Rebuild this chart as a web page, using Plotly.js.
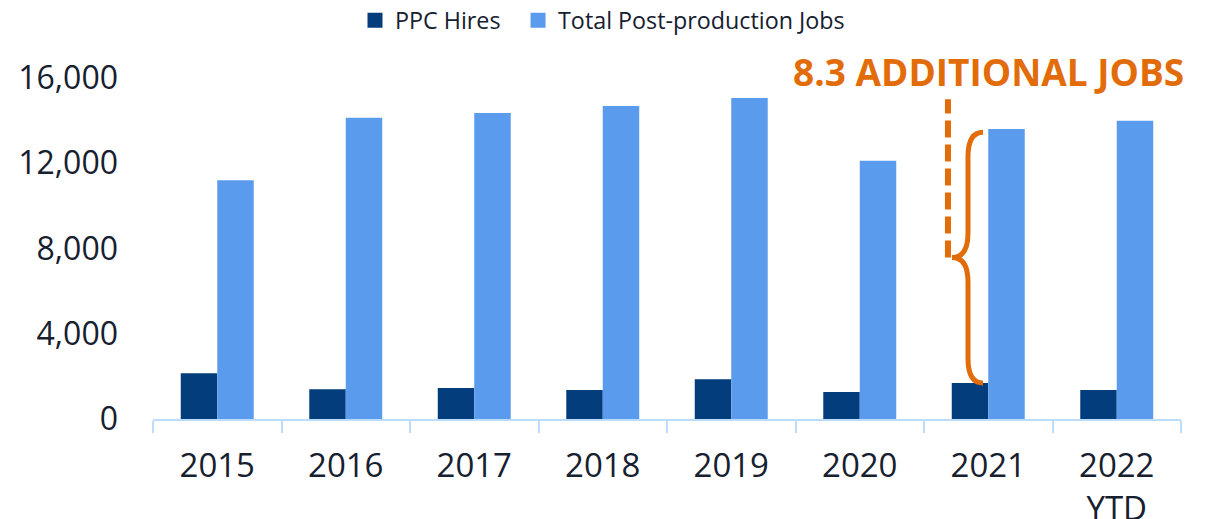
<!DOCTYPE html>
<html>
<head>
<meta charset="utf-8">
<script src="https://cdn.plot.ly/plotly-3.0.1.min.js"></script>
<style>
  body { margin: 0; background: #fff; }
  #chart { width: 1210px; height: 519px; }
</style>
</head>
<body>
<div id="chart"></div>
<script>
// chart data
let years = ["2015", "2016", "2017", "2018", "2019", "2020", "2021", "2022<br>YTD"]
let ppc_hires = [2150, 1400, 1450, 1360, 1870, 1270, 1690, 1360]
let total_jobs = [11200, 14130, 14360, 14690, 15060, 12120, 13610, 13990]
let y_ticks = [0, 4000, 8000, 12000, 16000]
let y_tick_labels = ["0", "4,000", "8,000", "12,000", "16,000"]

let navy = "#033d7c"
let blue = "#5b9bed"
let orange = "#e36c0a"
let textColor = "#16202f"

// bars (legend drawn by the marker-only traces below, bigger squares)
let trace1 = {
  x: years,
  y: ppc_hires,
  name: "PPC Hires",
  type: "bar",
  marker: { color: navy },
  showlegend: false,
  hoverinfo: "skip"
};

let trace2 = {
  x: years,
  y: total_jobs,
  name: "Total Post-production Jobs",
  type: "bar",
  marker: { color: blue },
  showlegend: false,
  hoverinfo: "skip"
};

let legend1 = {
  x: [years[0]], y: [null],
  name: "PPC Hires",
  type: "scatter", mode: "markers",
  marker: { color: navy, symbol: "square", size: 15 },
  legend: "legend",
  hoverinfo: "skip"
};

let legend2 = {
  x: [years[0]], y: [null],
  name: "Total Post-production Jobs",
  type: "scatter", mode: "markers",
  marker: { color: blue, symbol: "square", size: 15 },
  legend: "legend2",
  hoverinfo: "skip"
};

// brace between PPC hires and total jobs for 2021
let i21 = 6
let braceTop = total_jobs[i21] - 150
let braceBot = ppc_hires[i21]
let braceMid = (braceTop + braceBot) / 2
let r = 1150
// x positions in paper units
let xEnd = 0.8074, xMid = 0.7928, xTip = 0.7772, xDash = 0.7733
let xLabel = (i21 + 0.5) / years.length

let brace = "M" + xEnd + "," + braceTop +
  " Q" + xMid + "," + braceTop + " " + xMid + "," + (braceTop - r) +
  " L" + xMid + "," + (braceMid + r) +
  " Q" + xMid + "," + braceMid + " " + xTip + "," + braceMid +
  " Q" + xMid + "," + braceMid + " " + xMid + "," + (braceMid - r) +
  " L" + xMid + "," + (braceBot + r) +
  " Q" + xMid + "," + braceBot + " " + xEnd + "," + braceBot

// legend y given in plot units: centre at 20px from the top of the page
let legendY = (519 - 100 - 20.5) / (519 - 100 - 78)

let layout = {
  width: 1210,
  height: 519,
  margin: { l: 153, r: 29, t: 78, b: 100, autoexpand: false },
  paper_bgcolor: "#fff",
  plot_bgcolor: "#fff",
  font: { family: "Open Sans, sans-serif", color: textColor, size: 33 },
  barmode: "group",
  bargap: 0.432,
  bargroupgap: 0,
  showlegend: true,
  legend: {
    orientation: "h",
    x: 0.1965,
    xanchor: "left",
    y: legendY,
    yanchor: "middle",
    font: { size: 23.3, color: textColor }
  },
  legend2: {
    orientation: "h",
    x: 0.3551,
    xanchor: "left",
    y: legendY,
    yanchor: "middle",
    font: { size: 23.3, color: textColor }
  },
  xaxis: {
    type: "category",
    showgrid: false,
    showline: true,
    linecolor: "#bcdcfc",
    linewidth: 2,
    ticks: "outside",
    tickson: "boundaries",
    ticklen: 12,
    tickwidth: 2,
    tickcolor: "#bcdcfc",
    tickfont: { size: 33 },
    tickangle: 0,
    ticklabelstandoff: 16,
    automargin: false,
    zeroline: false
  },
  yaxis: {
    range: [0, 16000],
    tickvals: y_ticks,
    ticktext: y_tick_labels,
    showgrid: false,
    zeroline: false,
    showline: false,
    ticks: "",
    ticklabelstandoff: 34,
    automargin: false,
    tickfont: { size: 32 }
  },
  shapes: [
    {
      type: "line",
      xref: "paper", yref: "y",
      x0: xDash, x1: xDash,
      y0: braceMid, y1: 15000,
      line: { color: orange, width: 6, dash: "17px,7px" }
    },
    {
      type: "path",
      xref: "paper", yref: "y",
      path: brace,
      line: { color: orange, width: 5 }
    }
  ],
  annotations: [
    {
      text: "<b>8.3 ADDITIONAL JOBS</b>",
      xref: "paper", yref: "paper",
      x: xLabel, y: 1.0176,
      xanchor: "center", yanchor: "middle",
      showarrow: false,
      font: { size: 37, color: orange, family: "Open Sans, sans-serif" }
    }
  ]
};

Plotly.newPlot("chart", [trace1, trace2, legend1, legend2], layout, { displayModeBar: false, staticPlot: true });
</script>
</body>
</html>
